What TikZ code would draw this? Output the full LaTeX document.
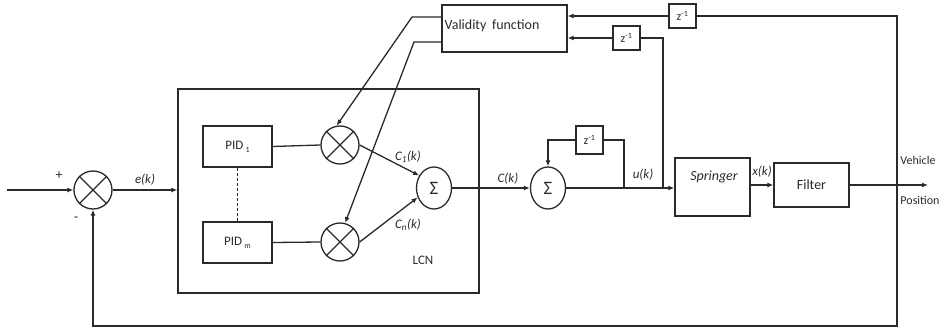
\documentclass[tikz,border=0pt]{standalone}
\usepackage{fontspec}
\setmainfont{Carlito}
\usetikzlibrary{arrows.meta,shapes.geometric}
\definecolor{ink}{HTML}{2A2A2A}
\begin{document}
\begin{tikzpicture}[x=1pt,y=-1pt,color=ink,
  every path/.style={line width=1.3pt},
  arr/.style={-{Latex[length=6pt,width=5pt]}},
  blk/.style={draw,line width=1.3pt,inner sep=0pt,minimum width=#1},
  zbox/.style={draw,line width=1.3pt,inner sep=0pt,minimum width=27pt,minimum height=24pt,font=\fontsize{12}{12}\selectfont},
  mult/.style={draw,circle,line width=1.3pt,minimum size=38pt,inner sep=0pt},
  sig/.style={draw,ellipse,line width=1.3pt,minimum width=35pt,minimum height=42pt,inner sep=0pt,font=\fontsize{19}{19}\selectfont},
  lbl/.style={font=\fontsize{13}{13}\selectfont\itshape,inner sep=0pt},
  txt/.style={font=\fontsize{12}{12}\selectfont,inner sep=0pt}]
\useasboundingbox (0,0) rectangle (946,332);
% nodes
\node[mult] (sum0) at (93,190) {};
\node[blk=301pt,minimum height=204pt] (lcn) at (328.5,191) {};
\node[blk=69pt,minimum height=41pt,font=\fontsize{13}{13}\selectfont] (pid1) at (237.5,146.5) {PID\,\raisebox{-3pt}{\fontsize{8}{8}\selectfont 1}};
\node[blk=69pt,minimum height=41pt,font=\fontsize{13}{13}\selectfont] (pidn) at (237.5,242.5) {PID\,\raisebox{-3pt}{\fontsize{8}{8}\selectfont m}};
\node[mult] (mult1) at (340,145) {};
\node[mult] (multn) at (340,242) {};
\node[sig] (sig1) at (434,188) {Σ};
\node[sig] (sig2) at (548,188) {Σ};
\node[blk=125pt,minimum height=47pt] (val) at (504.5,28.5) {};
\node[txt,anchor=west,font=\fontsize{14}{14}\selectfont] (valt) at (444,26) {Validity\, function};
\node[zbox] (zA) at (682.5,16) {z\textsuperscript{-1}};
\node[zbox] (zB) at (626.5,38) {z\textsuperscript{-1}};
\node[zbox,minimum height=28pt] (zC) at (589.5,140) {z\textsuperscript{-1}};
\node[blk=75pt,minimum height=58pt] (spr) at (712.5,187) {};
\node[txt,font=\fontsize{14}{14}\selectfont\itshape] (sprt) at (714,177) {Springer};
\node[blk=75pt,minimum height=44pt,font=\fontsize{14}{14}\selectfont] (filt) at (811.5,185) {Filter};
% crosses
\foreach \m in {sum0,mult1,multn}{
  \draw[line width=1.1pt] (\m.north west) -- (\m.south east) (\m.north east) -- (\m.south west);}
% coordinates
\coordinate (in) at (7,190);
\coordinate (br) at (897,326);
\coordinate (uj) at (663,188);
\coordinate (lj) at (624,188);
\coordinate (out) at (928,185);
\coordinate (vA) at (412,17);
\coordinate (vB) at (414,42);
% labels
\node[txt,font=\fontsize{14}{14}\selectfont] (plus) at (59,176) {+};
\node[txt,font=\fontsize{14}{14}\selectfont] (minus) at (76,219) {-};
\node[lbl] (ek) at (145,180) {e(k)};
\node[lbl] (c1) at (408,157) {C\textsubscript{1}(k)};
\node[lbl] (cn) at (408,225) {C\textsubscript{n}(k)};
\node[lbl] (ck) at (508,179) {C(k)};
\node[lbl] (uk) at (643,175) {u(k)};
\node[lbl] (xk) at (762,172) {x(k)};
\node[txt,font=\fontsize{13}{13}\selectfont] (lcnt) at (423,260) {LCN};
\node[txt] (veh) at (918,160) {Vehicle};
\node[txt] (pos) at (920,200) {Position};
% connectors
\draw[arr] (in) -- (sum0.west);
\draw[arr] (sum0.east) -- (sum0.east -| lcn.west);
\draw[dashed,line width=1.2pt,dash pattern=on 3pt off 2pt] (pid1.south) -- (pidn.north);
\draw (pid1.east) -- (mult1.west);
\draw (pidn.east) -- (multn.west);
\draw[arr] (mult1.east) -- (sig1.140);
\draw[arr] (multn.east) -- (sig1.210);
\draw[arr] (sig1.east) -- (sig2.west);
\draw[arr] (sig2.east) -- (spr.west |- sig2.east);
\draw (lj) |- (zC.east);
\draw[arr] (zC.west) -| (sig2.north);
\draw (uj) |- (zB.east);
\draw[arr] (zB.west) -- (zB.west -| val.east);
\draw[arr] (zA.west) -- (zA.west -| val.east);
\draw[arr] (zA.east) -| (br) -| (sum0.south);
\draw[arr] (val.west |- vA) -- (vA) -- (mult1.100);
\draw[arr] (val.west |- vB) -- (vB) -- (multn.75);
\draw[arr] (spr.east |- filt.west) -- (filt.west);
\draw[arr] (filt.east) -- (out);
\end{tikzpicture}
\end{document}
